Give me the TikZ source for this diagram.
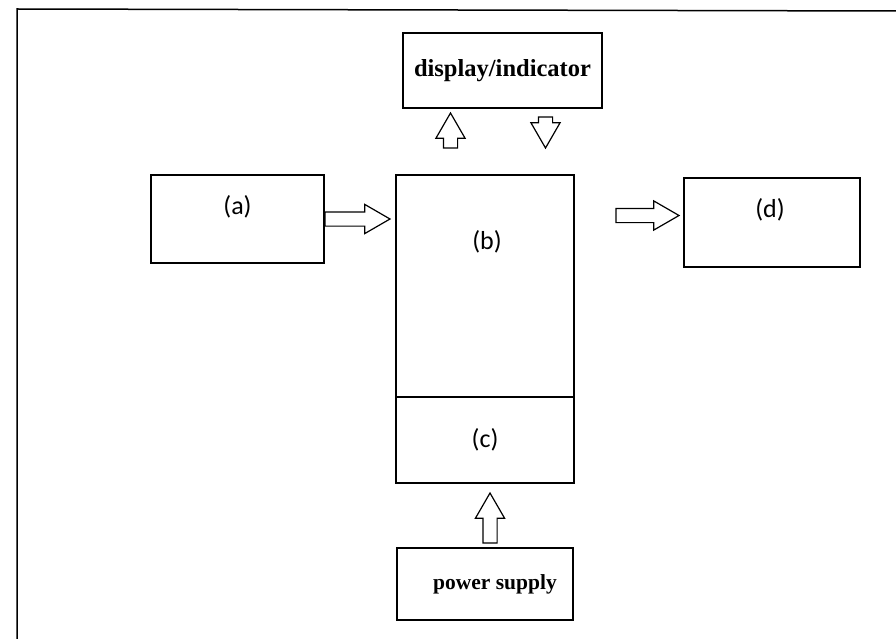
\documentclass[tikz,border=0pt]{standalone}
\usepackage{fontspec}
\newfontfamily\lblfont{Carlito}
\newfontfamily\capfont{Liberation Serif}
\usetikzlibrary{positioning}
\usetikzlibrary{shapes.arrows}
\usetikzlibrary{calc}
\tikzset{
 blk/.style={draw, line width=1.3pt, inner sep=0pt, outer sep=0pt, anchor=north west},
 fatarrow/.style={single arrow, draw, line width=1.2pt, inner sep=6.5pt, outer sep=0pt,
   single arrow head extend=7.5pt, single arrow tip angle=60, minimum height=#1},
 lbl/.style={font=\lblfont\fontsize{26}{30}\selectfont},
 captxt/.style={font=\capfont\bfseries\fontsize{#1}{26}\selectfont}
}

\begin{document}
\begin{tikzpicture}[x=1pt, y=-1pt]
\useasboundingbox (0,0) rectangle (896,639);
\draw[line width=1.5pt] (17,639) -- (17,9) -- (896,11);

\node[blk, minimum width=199pt, minimum height=75pt] (disp) at (403,33) {};
\node[captxt=24.5] (disptxt) at (disp.center) {display/indicator};
\node[blk, minimum width=173pt, minimum height=88pt] (a) at (151,175) {};
\node[blk, minimum width=178pt, minimum height=222pt] (b) at (396,175) {};
\node[blk, minimum width=178pt, minimum height=86pt, below=0pt of b] (c) {};
\node[blk, minimum width=176pt, minimum height=89pt] (d) at (684,178) {};
\node[blk, minimum width=176pt, minimum height=72pt] (pwr) at (397,548) {};
\node[captxt=21.5] (pwrtxt) at ([xshift=10pt]pwr.center) {power supply};

\node[lbl] (alabel) at ([yshift=-32pt]a.north) {(a)};
\node[lbl] (blabel) at ([xshift=2pt,yshift=-67pt]b.north) {(b)};
\node[lbl] (clabel) at (c.center) {(c)};
\node[lbl] (dlabel) at ([xshift=-2pt,yshift=-32pt]d.north) {(d)};

\node[fatarrow=65pt, anchor=tip] (ab) at ([xshift=-6pt]b.west |- a.east) {};
\node[fatarrow=63pt, anchor=tip] (bd) at ([xshift=-5pt,yshift=7pt]d.west) {};
\node[fatarrow=35pt, rotate=90, anchor=tip] (up) at ([xshift=-52pt,yshift=-5pt]disp.south) {};
\node[fatarrow=31pt, rotate=-90, anchor=tail] (down) at ([xshift=43pt,yshift=-9pt]disp.south) {};
\node[fatarrow=50pt, rotate=90, anchor=tip] (pc) at ([xshift=5pt,yshift=-10pt]c.south) {};
\end{tikzpicture}
\end{document}
